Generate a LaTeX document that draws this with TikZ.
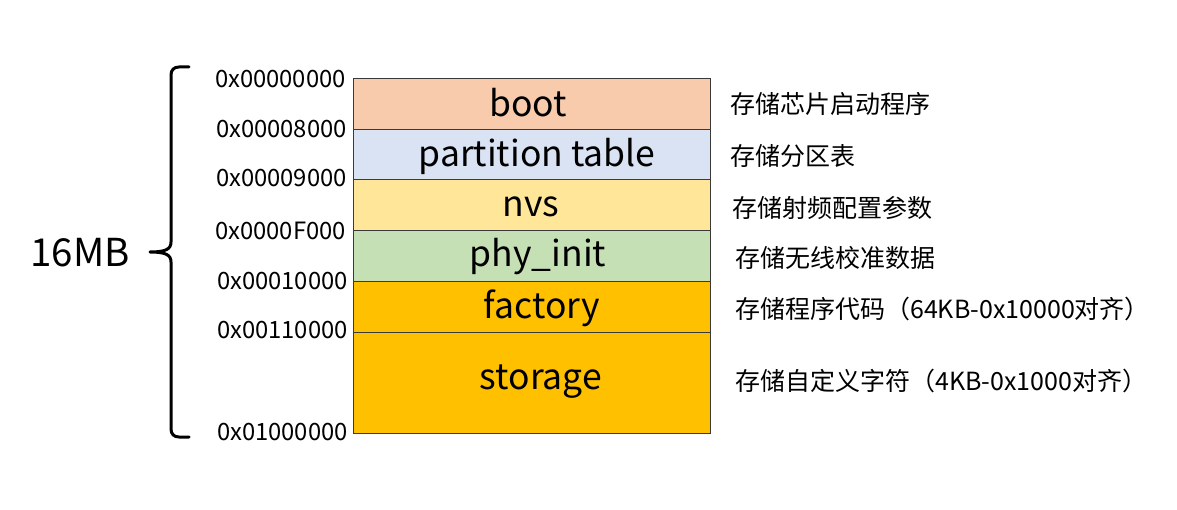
\documentclass[tikz,border=0pt]{standalone}
\usepackage{fontspec}
\setmainfont{Noto Sans CJK SC}
\definecolor{cboot}{HTML}{F8CBAD}
\definecolor{cpart}{HTML}{DAE3F3}
\definecolor{cnvs}{HTML}{FFE699}
\definecolor{cphy}{HTML}{C5E0B4}
\definecolor{cfac}{HTML}{FFC000}
\definecolor{cedge}{HTML}{3A3A3A}
\tikzset{
  seg/.style={draw=cedge, line width=0.9pt, inner sep=0pt, minimum width=357pt, anchor=north west},
  seglabel/.style={font=\fontsize{35.5}{40}\selectfont, text=black, inner sep=0pt},
  addr/.style={font=\fontsize{23.8}{27}\selectfont, anchor=east, inner sep=0pt},
  desc/.style={font=\fontsize{25}{29}\selectfont, anchor=west, inner sep=0pt},
}
\begin{document}
\begin{tikzpicture}[x=1pt,y=-1pt]
\useasboundingbox (0,0) rectangle (1177,510);
% segments
\node[seg, fill=cboot, minimum height=51pt] (boot) at (353,78) {};
\node[seg, fill=cpart, minimum height=50pt] (part) at (353,129) {};
\node[seg, fill=cnvs, minimum height=51pt] (nvs) at (353,179) {};
\node[seg, fill=cphy, minimum height=51pt] (phy) at (353,230) {};
\node[seg, fill=cfac, minimum height=51pt] (fac) at (353,281) {};
\node[seg, fill=cfac, minimum height=101pt] (sto) at (353,332) {};
% segment labels
\node[seglabel] (lboot) at (528,103) {boot};
\node[seglabel] (lpart) at (537,156) {partition table};
\node[seglabel] (lnvs) at (531,207) {nvs};
\node[seglabel] (lphy) at (538,257) {phy\_init};
\node[seglabel] (lfac) at (542,308) {factory};
\node[seglabel] (lsto) at (541,382) {storage};
% addresses
\node[addr] (a0) at (346,79) {0x00000000};
\node[addr] (a1) at (347,129) {0x00008000};
\node[addr] (a2) at (347,178) {0x00009000};
\node[addr] (a3) at (346,231) {0x0000F000};
\node[addr] (a4) at (348,281) {0x00010000};
\node[addr] (a5) at (348,330) {0x00110000};
\node[addr] (a6) at (348,432) {0x01000000};
% descriptions
\node[desc] (d0) at (730,104) {存储芯片启动程序};
\node[desc] (d1) at (730,156) {存储分区表};
\node[desc] (d2) at (732,208) {存储射频配置参数};
\node[desc] (d3) at (735,258) {存储无线校准数据};
\node[desc] (d4) at (735,309) {存储程序代码（64KB-0x10000对齐）};
\node[desc] (d5) at (735,381) {存储自定义字符（4KB-0x1000对齐）};
% brace
\draw[line width=3pt, line cap=round, line join=round]
  (189,67) -- (179,67) .. controls (174,67) and (171,70) .. (171,75)
  -- (171,242) .. controls (171,249) and (166,252) .. (150,252)
  .. controls (166,252) and (171,255) .. (171,262)
  -- (171,429) .. controls (171,434) and (174,437) .. (179,437) -- (189,437);
\node[font=\fontsize{38.5}{42}\selectfont, inner sep=0pt] (size) at (80,253) {16MB};
\end{tikzpicture}
\end{document}
